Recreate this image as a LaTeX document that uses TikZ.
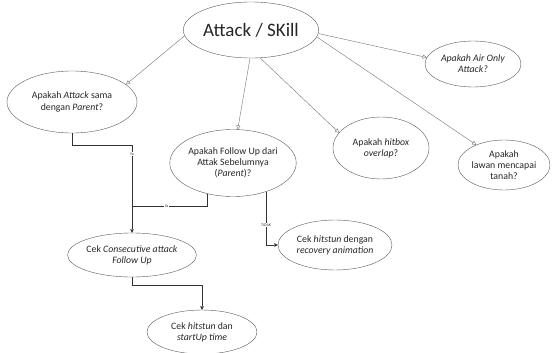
\documentclass[tikz,border=0pt]{standalone}
\usepackage{fontspec}
\setmainfont{Carlito}
\usetikzlibrary{shapes.geometric,arrows.meta}

\tikzset{
  question/.style={ellipse, draw=black!65, inner sep=0pt, align=center,
    text=black!85, font=\fontsize{9.8}{11.2}\selectfont},
  branch/.style={black!55, -{Triangle[open,length=4pt,width=4pt]}},
  flow/.style={black!80, -{Triangle[length=3.5pt,width=3.5pt]}},
  answer/.style={fill=white, inner sep=0.5pt, text=black!80, font=\fontsize{4}{4.5}\selectfont}
}

\begin{document}
\begin{tikzpicture}[x=1pt,y=-1pt]
    \useasboundingbox (0,0) rectangle (557,353);

    % Root
    \node[question, minimum width=116pt, minimum height=56pt,
          font=\fontsize{19}{22}\selectfont] (skill) at (251,30) {Attack / SKill};

    % Questions
    \node[question, minimum width=130pt, minimum height=62pt] (parent) at (72,102)
        {Apakah \textit{Attack} sama\\dengan \textit{Parent}?};
    \node[question, minimum width=124pt, minimum height=67pt] (follow) at (233,163)
        {Apakah Follow Up dari\\Attak Sebelumnya\\(\textit{Parent})?};
    \node[question, minimum width=96pt, minimum height=62pt] (hitbox) at (381,148)
        {Apakah \textit{hitbox}\\\textit{overlap}?};
    \node[question, minimum width=96pt, minimum height=46pt] (air) at (473,64)
        {\textit{Apakah Air Only}\\\textit{Attack?}};
    \node[question, minimum width=92pt, minimum height=50pt] (ground) at (504,165)
        {Apakah\\lawan mencapai\\tanah?};

    % Checks
    \node[question, minimum width=114pt, minimum height=44pt] (consec) at (132,255)
        {Cek \textit{Consecutive attack}\\\textit{Follow Up}};
    \node[question, minimum width=114pt, minimum height=50pt] (recovery) at (335,245)
        {Cek \textit{hitstun} dengan\\\textit{recovery animation}};
    \node[question, minimum width=110pt, minimum height=44pt] (startup) at (202,332)
        {Cek \textit{hitstun} dan\\\textit{startUp time}};

    % Root to questions
    \draw[branch] (skill.185) -- (parent.18);
    \draw[branch] (skill.268) -- (follow.82);
    \draw[branch] (skill.288) -- (hitbox.160);
    \draw[branch] (skill.357) -- (air.172);
    \draw[branch] (skill.354) -- (ground.144);

    % Answers
    \coordinate (join) at (132,206);
    \draw[flow] (parent.south) -- ++(0,12) -| node[answer, pos=0.55] {Ya} (consec.north);
    \draw[black!80] (follow.230) |- node[answer, pos=0.77] {Ya} (join);
    \draw[flow] (follow.319) |- node[answer, pos=0.31] {TIDAK} (recovery.west);
    \draw[flow] (consec.south) -- ++(0,8) -| (startup.north);
\end{tikzpicture}
\end{document}
